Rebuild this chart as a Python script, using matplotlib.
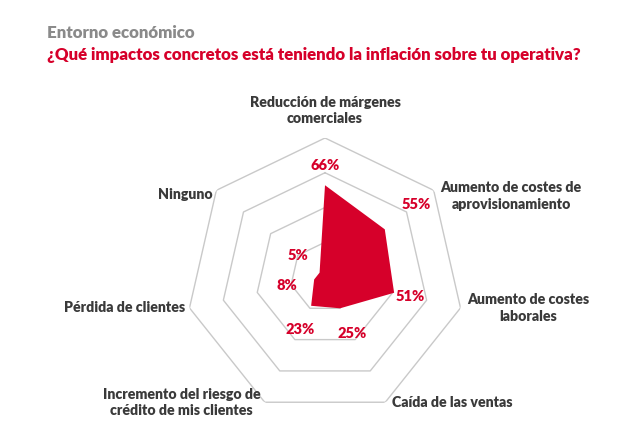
import matplotlib.pyplot as plt
import numpy as np

categories = [
    "Reducción de márgenes\ncomerciales",
    "Aumento de costes de\naprovisionamiento",
    "Aumento de costes\nlaborales",
    "Caída de las ventas",
    "Incremento del riesgo de\ncrédito de mis clientes",
    "Pérdida de clientes",
    "Ninguno",
]
values = [66, 55, 51, 25, 23, 8, 5]
ring_levels = [25, 50, 75, 100]

# layout: radius (data units) where each percentage label sits
value_label_radius = [80, 84, 63, 45, 42, 28, 25]

RED = "#d6002a"
GREY_LINE = "#c9c9c9"
TEXT_DARK = "#3a3a3a"
FONT = "Lato"
WEIGHT = "heavy"

n = len(categories)
angles = np.arange(n) * 2 * np.pi / n

fig = plt.figure(figsize=(6.2, 4.41), dpi=100)
ax = fig.add_axes([0.3, 0.0567, 0.4484, 0.6304], projection="polar")
ax.set_theta_offset(np.pi / 2)
ax.set_theta_direction(-1)
ax.set_ylim(0, 100)
ax.grid(False)
ax.spines["polar"].set_visible(False)
ax.set_xticks([])
ax.set_yticks([])

closed = np.append(angles, angles[0])
for lvl in ring_levels:
    ax.plot(closed, [lvl] * (n + 1), color=GREY_LINE, lw=1.0, zorder=1)

vals_closed = values + [values[0]]
ax.fill(closed, vals_closed, color=RED, lw=0, zorder=2)

for a, v, r in zip(angles, values, value_label_radius):
    ax.text(a, r, f"{v}%", color=RED, fontsize=10.5, fontweight=WEIGHT,
            family=FONT, ha="center", va="center", zorder=3)

# category labels anchored at the outer vertices
for a, lab in zip(angles, categories):
    s = np.sin(a)
    c = np.cos(a)
    if abs(s) < 0.1:
        ha = "center"
        va = "bottom"
        off = (0, 9)
    elif s > 0:
        ha = "left"
        va = "center"
        off = (5, -4 if c > 0 else 0)
    else:
        ha = "right"
        va = "center"
        off = (-3, -3 if c > 0 else 0)
    ax.annotate(lab, xy=(a, 100), xytext=off, textcoords="offset points",
                ha=ha, va=va, multialignment="center", color=TEXT_DARK,
                fontsize=10.2, fontweight=WEIGHT, family=FONT,
                linespacing=1.3, annotation_clip=False)

fig.text(47 / 620, 1 - 33 / 441, "Entorno económico", color="#8a8a8a",
         fontsize=12.2, fontweight=WEIGHT, family=FONT, ha="left", va="center")
fig.text(47 / 620, 1 - 55 / 441,
         "¿Qué impactos concretos está teniendo la inflación sobre tu operativa?",
         color=RED, fontsize=12.2, fontweight=WEIGHT, family=FONT,
         ha="left", va="center")

fig.savefig("out.png", dpi=100)
